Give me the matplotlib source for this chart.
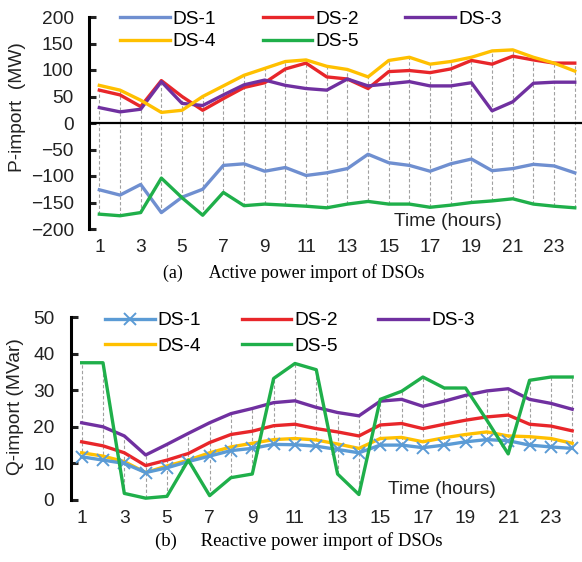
# used for plots
import matplotlib.pyplot as plt
# used for the hour axis and the high-low lines
import numpy as np

plt.rcParams['font.family'] = ['Liberation Sans', 'DejaVu Sans']

hours = np.arange(1, 25)
names = ["DS-1", "DS-2", "DS-3", "DS-4", "DS-5"]

# active power import (MW)
p_ds1 = [-126, -136, -116, -169, -140, -125, -80, -77, -91, -84, -99, -94,
         -86, -59, -75, -80, -91, -77, -68, -90, -86, -78, -81, -94]
p_ds2 = [62, 53, 31, 80, 50, 24, 46, 67, 76, 102, 113, 87,
         83, 65, 97, 99, 95, 102, 118, 111, 126, 119, 113, 113]
p_ds3 = [29, 21, 26, 78, 37, 33, 53, 72, 81, 71, 65, 62,
         83, 70, 74, 78, 70, 70, 76, 23, 40, 75, 77, 77]
p_ds4 = [71, 62, 43, 20, 24, 50, 70, 90, 103, 116, 119, 107,
         101, 87, 118, 124, 111, 116, 124, 136, 138, 124, 113, 98]
p_ds5 = [-172, -175, -169, -104, -141, -174, -131, -156, -153, -155, -157, -160,
         -153, -148, -153, -153, -159, -155, -150, -147, -143, -153, -157, -160]

# reactive power import (MVar)
q_ds1 = [11.8, 10.9, 10.0, 7.5, 8.8, 10.5, 12.0, 13.5, 14.1, 15.2, 15.1, 14.7,
         13.8, 12.9, 15.0, 15.0, 14.3, 15.0, 15.9, 16.5, 16.2, 15.0, 14.5, 14.1]
q_ds2 = [15.9, 14.8, 12.9, 9.4, 10.9, 12.7, 15.7, 17.9, 18.8, 20.3, 20.7, 19.5,
         18.6, 17.5, 20.5, 20.9, 19.5, 20.7, 21.8, 22.7, 23.2, 20.7, 20.2, 18.9]
q_ds3 = [21.1, 20.0, 17.5, 12.3, 15.2, 18.2, 21.1, 23.6, 25.0, 26.6, 27.1, 25.3,
         23.9, 23.0, 27.0, 27.5, 25.6, 27.0, 28.6, 29.8, 30.4, 27.5, 26.4, 24.8]
q_ds4 = [12.9, 12.0, 10.5, 7.5, 9.3, 10.9, 12.9, 14.5, 15.5, 16.5, 16.8, 16.4,
         15.3, 14.1, 16.8, 17.1, 15.9, 17.0, 17.9, 18.6, 17.5, 17.3, 16.8, 15.5]
q_ds5 = [37.5, 37.5, 1.8, 0.5, 1.0, 10.9, 1.2, 6.1, 7.1, 33.2, 37.3, 35.6,
         7.1, 1.5, 27.5, 29.7, 33.6, 30.6, 30.6, 21.8, 12.6, 32.7, 33.6, 33.6]

p_colors = ["#6F8FD0", "#E8262A", "#7030A0", "#FFC000", "#1FAF4A"]
q_colors = ["#5B9BD5", "#E8262A", "#7030A0", "#FFC000", "#1FAF4A"]
font = 13.8
# legend fills column by column, so this puts DS-1..3 on the first row
legend_order = [0, 3, 1, 4, 2]

fig = plt.figure(figsize=(5.82, 5.62), dpi=100)


def style_axes(ax, ylim, yticks, xmax, ypad):
    ax.set_xlim(0.5, xmax)
    ax.set_ylim(*ylim)
    ax.set_yticks(yticks)
    ax.set_xticks(np.arange(1, 25, 2))
    for s in ["top", "right", "bottom"]:
        ax.spines[s].set_visible(False)
    ax.spines["left"].set_linewidth(2.2)
    ax.tick_params(axis="y", direction="in", length=5, width=2.2,
                   labelsize=font, pad=ypad, colors="#222222")
    ax.tick_params(axis="x", length=0, labelsize=font, pad=7,
                   colors="#222222")


def add_legend(ax, x, y, spacing, colspace):
    h, l = ax.get_legend_handles_labels()
    return ax.legend([h[i] for i in legend_order], [l[i] for i in legend_order],
                     ncol=3, loc="upper left", bbox_to_anchor=(x, y),
                     frameon=False, fontsize=font, handlelength=2.6,
                     handletextpad=0.15, columnspacing=colspace,
                     labelspacing=spacing, borderpad=0, borderaxespad=0)


# (a) active power
ax1 = fig.add_axes([89 / 582, 333 / 562, 493 / 582, 212 / 562])
p_all = np.array([p_ds1, p_ds2, p_ds3, p_ds4, p_ds5])
# dashed high-low lines at every hour
ax1.vlines(hours, p_all.min(axis=0), p_all.max(axis=0), colors="#A0A0A0",
           linestyles=(0, (3, 2)), linewidth=0.8, zorder=1)
ax1.axhline(0, color="black", linewidth=1.6, zorder=2)
for vals, name, c in zip(p_all, names, p_colors):
    ax1.plot(hours, vals, color=c, linewidth=2.4, label=name, zorder=3)
style_axes(ax1, (-200, 200), np.arange(-200, 201, 50), 24.35, 11)
add_legend(ax1, 0.063, 1.031, 0.26, 2.42)
fig.text(448 / 582, 1 - 222 / 562, "Time (hours)", ha="center",
         va="center", fontsize=font, color="#222222")
fig.text(18 / 582, 1 - 107 / 562, "P-import  (MW)", rotation=90,
         ha="center", va="center", fontsize=font, color="#222222")
fig.text(0.505, 1 - 273 / 562, "(a)      Active power import of DSOs",
         ha="center", va="center", fontsize=12.9, family="Liberation Serif")

# (b) reactive power
ax2 = fig.add_axes([71 / 582, 62 / 562, 511 / 582, 183 / 562])
q_all = np.array([q_ds1, q_ds2, q_ds3, q_ds4, q_ds5])
ax2.vlines(hours, q_all.min(axis=0), q_all.max(axis=0), colors="#A0A0A0",
           linestyles=(0, (3, 2)), linewidth=0.8, zorder=1)
zs = [5, 4, 3, 3.5, 6]
for vals, name, c, z in zip(q_all, names, q_colors, zs):
    if name == "DS-1":
        ax2.plot(hours, vals, color=c, linewidth=2.4, marker="x",
                 markersize=9, markeredgewidth=1.4, label=name, zorder=z)
    else:
        ax2.plot(hours, vals, color=c, linewidth=2.4, label=name, zorder=z)
style_axes(ax2, (0, 50), np.arange(0, 51, 10), 24.46, 12)
add_legend(ax2, 0.0665, 1.028, 0.41, 2.11)
fig.text(442 / 582, 1 - 490 / 562, "Time (hours)", ha="center",
         va="center", fontsize=font, color="#222222")
fig.text(16 / 582, 1 - 407 / 562, "Q-import (MVar)", rotation=90,
         ha="center", va="center", fontsize=font, color="#222222")
fig.text(0.513, 1 - 541 / 562, "(b)     Reactive power import of DSOs",
         ha="center", va="center", fontsize=13.5, family="Liberation Serif")

fig.savefig("out.png", dpi=100)
